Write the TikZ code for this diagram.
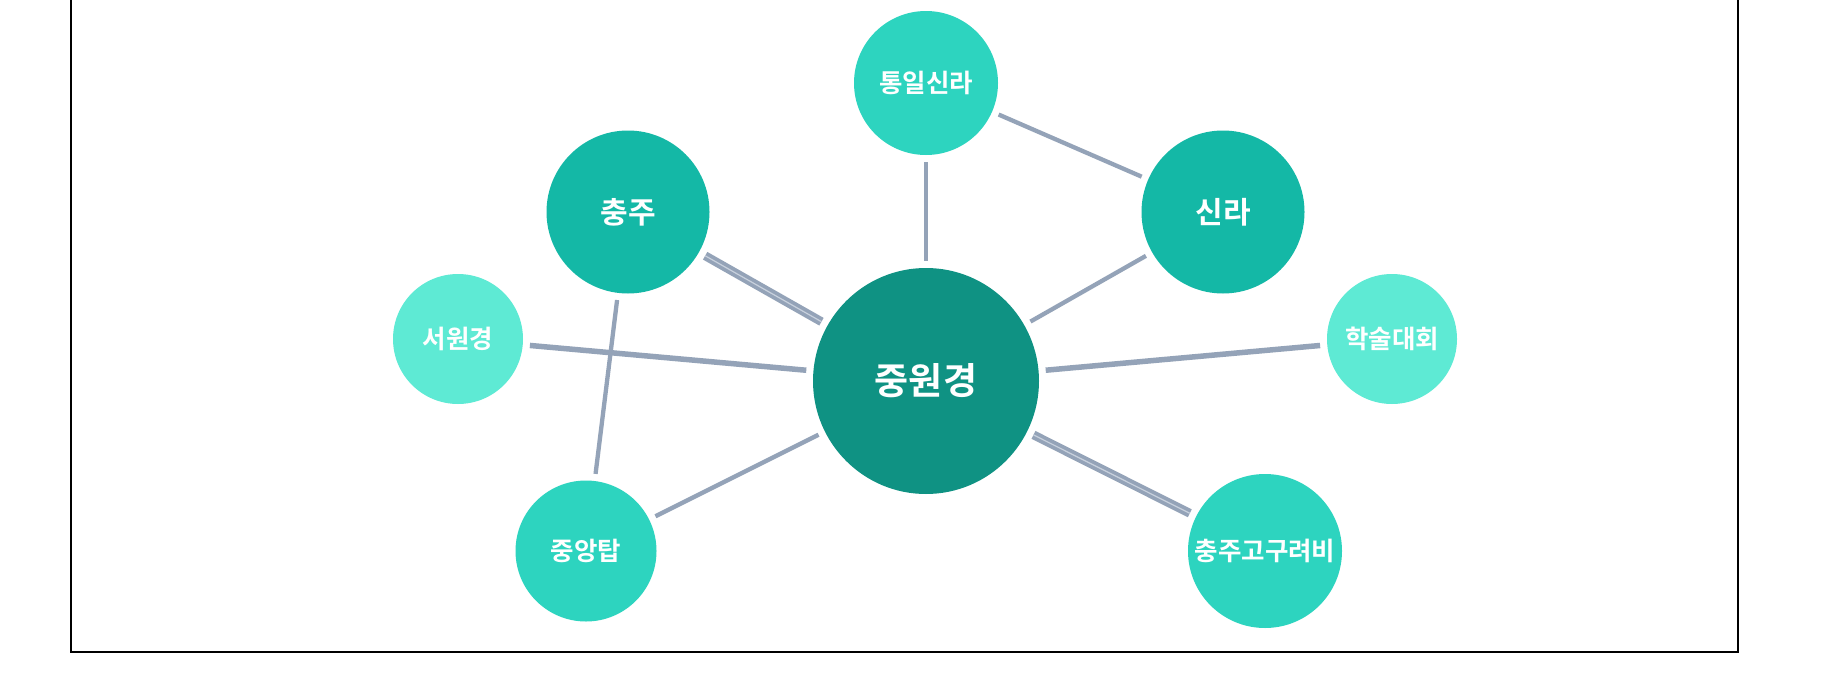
\documentclass[tikz,border=0pt]{standalone}
\usepackage{fontspec}
\setmainfont{Noto Sans CJK KR}[BoldFont={* Bold}]
\definecolor{tealA}{HTML}{0F9283}
\definecolor{tealB}{HTML}{14B8A6}
\definecolor{tealC}{HTML}{2DD4BF}
\definecolor{tealD}{HTML}{5EEAD4}
\definecolor{edgecol}{HTML}{94A3B8}
\definecolor{edgelight}{HTML}{C8D1DD}
\tikzset{
  bubble/.style={circle, inner sep=0pt, text=white, font=\bfseries},
  hub/.style={bubble, fill=tealA, minimum size=226pt, font=\bfseries\fontsize{37pt}{42pt}\selectfont},
  majornode/.style={bubble, fill=tealB, minimum size=163pt, font=\bfseries\fontsize{30pt}{34pt}\selectfont},
  minornode/.style={bubble, fill=tealC, font=\bfseries\fontsize{25.5pt}{30pt}\selectfont},
  lightnode/.style={bubble, fill=tealD, minimum size=130pt, font=\bfseries\fontsize{25.5pt}{30pt}\selectfont},
  link/.style={draw=edgecol, line width=4.3pt, shorten >=7pt, shorten <=7pt},
  widelink/.style={draw=edgecol, line width=5.5pt, shorten >=7pt, shorten <=7pt},
  doublelink/.style={draw=edgecol, double=edgelight, double distance=1.2pt, line width=3.8pt, shorten >=7pt, shorten <=7pt},
  frameline/.style={draw=black, line width=1.6pt}
}
\begin{document}
\begin{tikzpicture}[x=1pt,y=-1pt]
\useasboundingbox (0,0) rectangle (1840,680);
\fill[white] (0,0) rectangle (1840,680);
\coordinate (fa) at (71,-5);
\coordinate (fb) at (71,652);
\coordinate (fc) at (1738,652);
\coordinate (fd) at (1738,-5);
\draw[frameline] (fa) -- (fb) -- (fc) -- (fd);

\node[hub] (center) at (926,381) {중원경};
\node[minornode, minimum size=144pt] (tongil) at (926,83) {통일신라};
\node[majornode] (chungju) at (628,212) {충주};
\node[majornode] (silla) at (1223,212) {신라};
\node[lightnode] (seowon) at (458,339) {서원경};
\node[lightnode] (haksul) at (1392,339) {학술대회};
\node[minornode, minimum size=141pt] (tower) at (586,551) {중앙탑};
\node[minornode, minimum size=154pt] (stele) at (1265,551) {충주고구려비};

\draw[link] (tongil) -- (center);
\draw[link] (tongil) -- (silla);
\draw[link] (silla) -- (center);
\draw[doublelink] (chungju) -- (center);
\draw[widelink] (seowon) -- (center);
\draw[widelink] (haksul) -- (center);
\draw[link] (chungju) -- (tower);
\draw[link] (tower) -- (center);
\draw[doublelink] (center) -- (stele);
\end{tikzpicture}
\end{document}
